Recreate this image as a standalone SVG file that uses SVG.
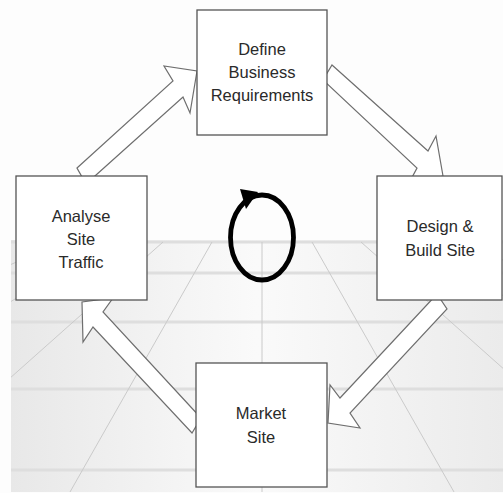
<svg xmlns="http://www.w3.org/2000/svg" width="503" height="493" viewBox="0 0 503 493">
  <defs>
    <linearGradient id="floorShade" x1="0" y1="0" x2="1" y2="0">
      <stop offset="0" stop-color="#e8e8e8"/>
      <stop offset="0.5" stop-color="#fafafa"/>
      <stop offset="1" stop-color="#ebebeb"/>
    </linearGradient>
    <clipPath id="floorClip">
      <rect x="11" y="240" width="492" height="252"/>
    </clipPath>
  </defs>
  <style>
    .step { fill: #ffffff; stroke: #555555; stroke-width: 1.3; }
    .label { font-family: "Liberation Sans", Arial, sans-serif; font-size: 16.5px; fill: #2a2a2a; text-anchor: middle; }
    .flow { fill: #ffffff; stroke: #6e6e6e; stroke-width: 1.2; stroke-linejoin: miter; }
    .band { stroke: #dedede; stroke-width: 3; }
    .ray { stroke: #cacaca; stroke-width: 1; fill: none; }
  </style>

  <!-- backdrop: plain sky and a perspective floor grid -->
  <rect x="0" y="0" width="503" height="493" fill="#fdfdfd"/>
  <g id="floor" clip-path="url(#floorClip)">
    <rect x="11" y="240" width="492" height="252" fill="url(#floorShade)"/>
    <g class="band">
      <line x1="11" y1="242" x2="503" y2="242"/>
      <line x1="11" y1="273" x2="503" y2="273"/>
      <line x1="11" y1="322" x2="503" y2="322"/>
      <line x1="11" y1="389" x2="503" y2="389"/>
      <line x1="11" y1="470" x2="503" y2="470"/>
    </g>
    <!-- rays from the vanishing point at (262,154) -->
    <g class="ray">
      <line x1="262" y1="242" x2="262" y2="492"/>
      <line x1="212" y1="242" x2="70" y2="492"/>
      <line x1="312" y1="242" x2="454" y2="492"/>
      <line x1="163" y1="242" x2="-118" y2="492"/>
      <line x1="361" y1="242" x2="642" y2="492"/>
      <line x1="112" y1="242" x2="-313" y2="492"/>
      <line x1="412" y1="242" x2="837" y2="492"/>
      <line x1="62" y1="242" x2="-506" y2="492"/>
      <line x1="462" y1="242" x2="1030" y2="492"/>
    </g>
  </g>

  <!-- cycle marker in the middle -->
  <g id="cycle">
    <ellipse cx="262" cy="237.5" rx="31.5" ry="42.5" fill="none" stroke="#000000" stroke-width="4.8"/>
    <polygon points="240,189 258,192 246,209" fill="#000000"/>
  </g>

  <!-- block arrows between the steps -->
  <g id="connectors">
    <polygon class="flow" points="77,168 173,81 164,66 197,71 190,113 183,97 86,184"/>
    <polygon class="flow" points="332,65 428,151 436,136 443,176 409,183 417,168 323,80"/>
    <polygon class="flow" points="437,294 447,309 350,413 360,428 328,423 330,385 340,398"/>
    <polygon class="flow" points="201,418 103,312 113,298 82,302 83,342 93,327 192,433"/>
  </g>

  <g id="define-requirements">
    <rect class="step" x="197" y="10" width="130" height="125"/>
    <text class="label" x="262" y="55">Define</text>
    <text class="label" x="262" y="78">Business</text>
    <text class="label" x="262" y="101">Requirements</text>
  </g>

  <g id="design-build">
    <rect class="step" x="377" y="176" width="125" height="124"/>
    <text class="label" x="440" y="232">Design &amp;</text>
    <text class="label" x="440" y="256">Build Site</text>
  </g>

  <g id="market-site">
    <rect class="step" x="196" y="363" width="131" height="124"/>
    <text class="label" x="261" y="419">Market</text>
    <text class="label" x="261" y="443">Site</text>
  </g>

  <g id="analyse-traffic">
    <rect class="step" x="16" y="176" width="131" height="124"/>
    <text class="label" x="81" y="222">Analyse</text>
    <text class="label" x="81" y="245">Site</text>
    <text class="label" x="81" y="268">Traffic</text>
  </g>
</svg>
